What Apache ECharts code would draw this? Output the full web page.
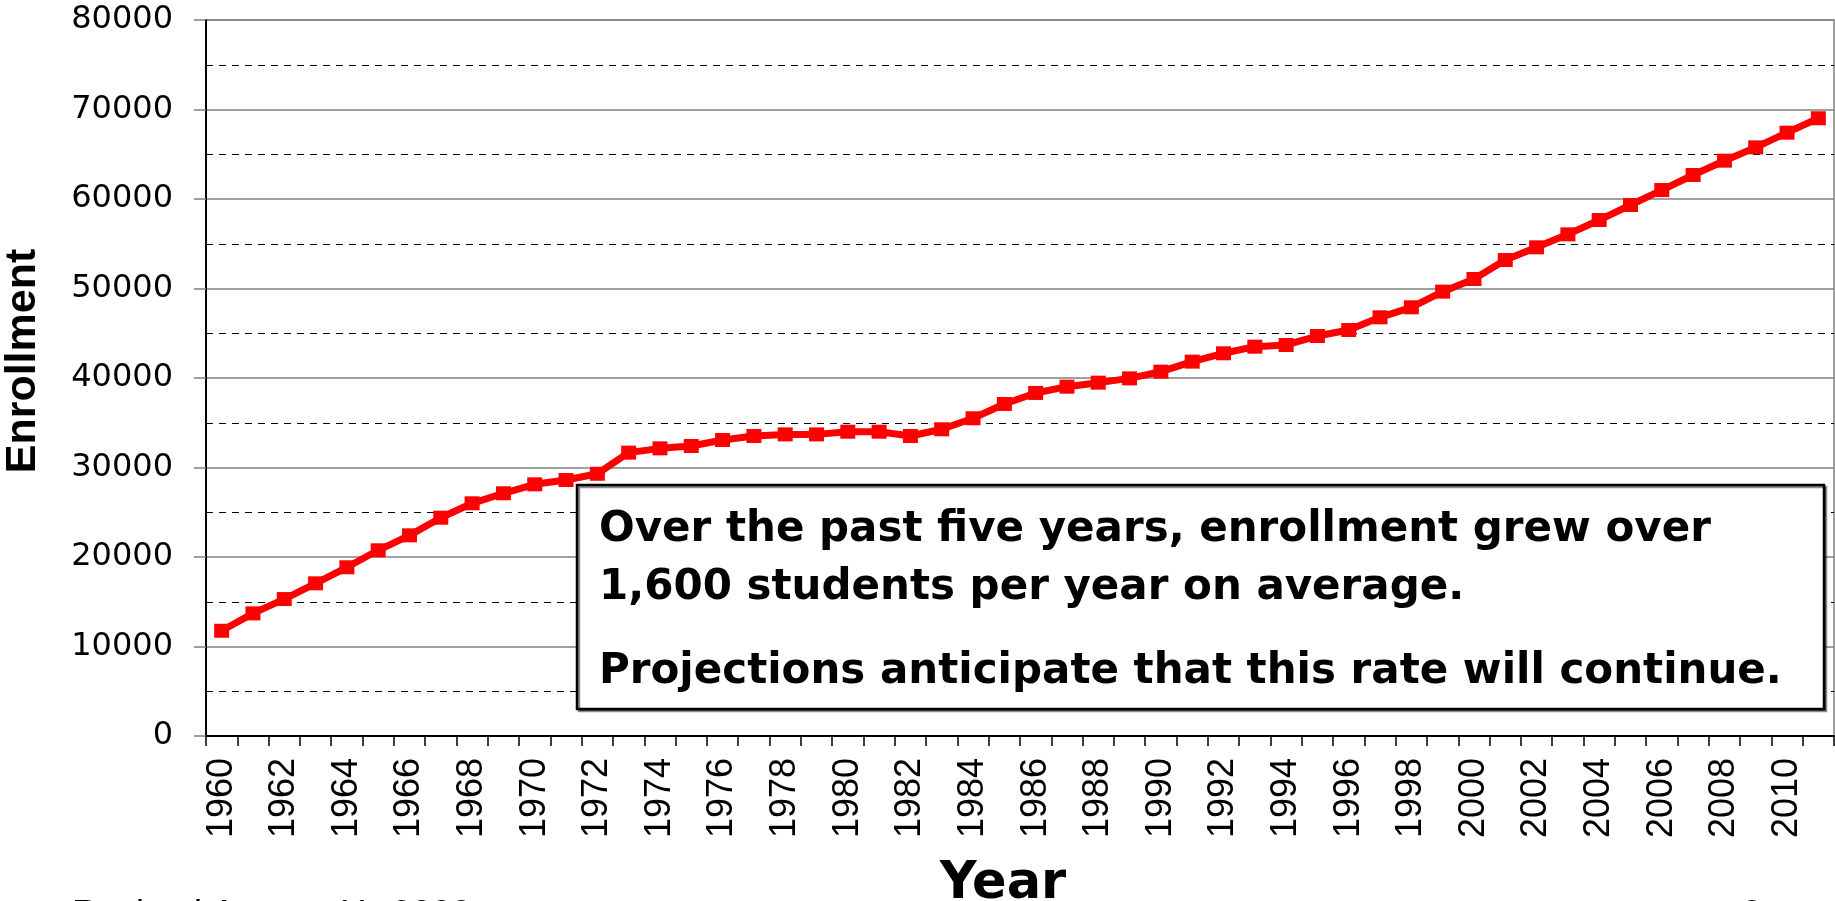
<!DOCTYPE html>
<html>
<head>
<meta charset="utf-8">
<title>Enrollment</title>
<script src="https://cdn.jsdelivr.net/npm/echarts@6/dist/echarts.min.js"></script>
<style>
    html, body { margin: 0; padding: 0; background: #fff; }
    #main { width: 1835px; height: 901px; }
</style>
</head>
<body>
<div id="main"></div>
<script>
    // data
    var years = ['1960', '1961', '1962', '1963', '1964', '1965', '1966', '1967', '1968', '1969',
        '1970', '1971', '1972', '1973', '1974', '1975', '1976', '1977', '1978', '1979',
        '1980', '1981', '1982', '1983', '1984', '1985', '1986', '1987', '1988', '1989',
        '1990', '1991', '1992', '1993', '1994', '1995', '1996', '1997', '1998', '1999',
        '2000', '2001', '2002', '2003', '2004', '2005', '2006', '2007', '2008', '2009',
        '2010', '2011'];
    var enrollment = [11760, 13700, 15300, 17060, 18850, 20750, 22420, 24390, 26000, 27120,
        28120, 28600, 29300, 31660, 32140, 32400, 33070, 33520, 33700, 33700,
        34000, 34000, 33520, 34270, 35500, 37100, 38330, 39030, 39480, 39960,
        40710, 41830, 42760, 43500, 43690, 44690, 45360, 46780, 47900, 49650,
        51060, 53180, 54600, 56050, 57650, 59330, 61000, 62680, 64280, 65770,
        67410, 69020];
    var noteLines = [
        'Over the past five years, enrollment grew over',
        '1,600 students per year on average.',
        'Projections anticipate that this rate will continue.'
    ];
    var footerLeft = 'Revised August 11, 2009';
    var footerRight = '3';

    var chart = echarts.init(document.getElementById('main'), null, {renderer: 'canvas'});
    chart.setOption({
        animation: false,
        backgroundColor: '#fff',
        grid: {
            left: 206,
            top: 20,
            right: 1,
            bottom: 165,
            show: true,
            borderColor: '#808080',
            borderWidth: 1.5
        },
        xAxis: {
            type: 'category',
            data: years,
            boundaryGap: true,
            axisLine: {lineStyle: {color: '#000', width: 2}},
            axisTick: {show: true, interval: 0, length: 10, lineStyle: {color: '#000', width: 1.5}},
            axisLabel: {
                interval: 1,
                rotate: 90,
                margin: 22,
                color: '#000',
                fontFamily: 'Liberation Sans',
                fontSize: 36
            },
            splitLine: {show: false}
        },
        yAxis: {
            type: 'value',
            min: 0,
            max: 80000,
            interval: 10000,
            axisLine: {show: true, lineStyle: {color: '#000', width: 2}},
            axisTick: {show: true, length: 12, lineStyle: {color: '#808080', width: 1.5}},
            axisLabel: {
                margin: 33,
                color: '#000',
                fontFamily: 'DejaVu Sans',
                fontSize: 32,
                formatter: function (v) { return String(v); }
            },
            splitLine: {show: true, lineStyle: {color: '#808080', width: 1.5}},
            minorTick: {show: false, splitNumber: 2},
            minorSplitLine: {show: true, lineStyle: {color: '#000', width: 1, type: [7, 6]}}
        },
        series: [{
            name: 'Enrollment',
            type: 'line',
            data: enrollment,
            symbol: 'rect',
            symbolSize: [15, 14],
            showAllSymbol: true,
            lineStyle: {color: '#ff0000', width: 7},
            itemStyle: {color: '#ff0000'},
            z: 3
        }],
        graphic: [
            {
                type: 'text',
                x: 23,
                y: 361,
                rotation: Math.PI / 2,
                style: {
                    text: 'Enrollment',
                    fill: '#000',
                    font: 'bold 43px "Liberation Sans"',
                    align: 'center',
                    verticalAlign: 'middle'
                }
            },
            {
                type: 'text',
                x: 1003,
                y: 885,
                style: {
                    text: 'Year',
                    fill: '#000',
                    font: 'bold 51px "DejaVu Sans"',
                    align: 'center',
                    verticalAlign: 'middle'
                }
            },
            {
                type: 'rect',
                shape: {x: 577, y: 485, width: 1247, height: 224},
                style: {
                    fill: '#fff',
                    stroke: '#000',
                    lineWidth: 2.5,
                    shadowColor: 'rgba(0,0,0,0.45)',
                    shadowOffsetX: 2,
                    shadowOffsetY: 2
                },
                z: 10
            },
            {
                type: 'text', x: 599, y: 530, z: 11,
                style: {text: noteLines[0], fill: '#000', font: 'bold 42px "DejaVu Sans"', verticalAlign: 'middle'}
            },
            {
                type: 'text', x: 599, y: 588, z: 11,
                style: {text: noteLines[1], fill: '#000', font: 'bold 42px "DejaVu Sans"', verticalAlign: 'middle'}
            },
            {
                type: 'text', x: 599, y: 672, z: 11,
                style: {text: noteLines[2], fill: '#000', font: 'bold 42px "DejaVu Sans"', verticalAlign: 'middle'}
            },
            {
                type: 'text', x: 72, y: 898,
                style: {text: footerLeft, fill: '#000', font: '36px "Liberation Sans"', verticalAlign: 'top'}
            },
            {
                type: 'text', x: 1742, y: 898,
                style: {text: footerRight, fill: '#000', font: '36px "Liberation Sans"', verticalAlign: 'top'}
            }
        ]
    });
</script>
</body>
</html>
